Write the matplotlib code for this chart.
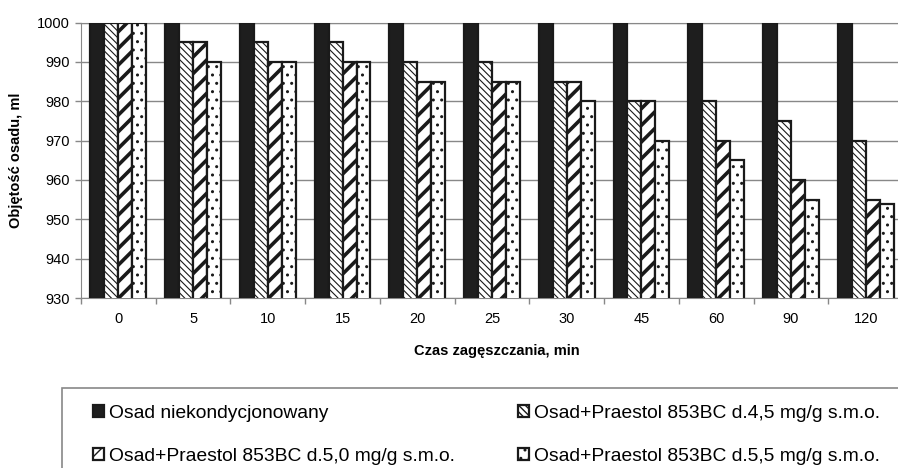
import numpy as np
from matplotlib import pyplot as plt, rcParams
from matplotlib.patches import Rectangle

rcParams["font.family"] = ["Liberation Sans", "DejaVu Sans"]

# Data
times = ["0", "5", "10", "15", "20", "25", "30", "45", "60", "90", "120"]
osad_niekond = [1000, 1000, 1000, 1000, 1000, 1000, 1000, 1000, 1000, 1000, 1000]
praestol_45 = [1000, 995, 995, 995, 990, 990, 985, 980, 980, 975, 970]
praestol_50 = [1000, 995, 990, 990, 985, 985, 985, 980, 970, 960, 955]
praestol_55 = [1000, 990, 990, 990, 985, 985, 980, 970, 965, 955, 954]
labels = [
    "Osad niekondycjonowany",
    "Osad+Praestol 853BC d.4,5 mg/g s.m.o.",
    "Osad+Praestol 853BC d.5,0 mg/g s.m.o.",
    "Osad+Praestol 853BC d.5,5 mg/g s.m.o.",
]

W, H = 898, 468
fig = plt.figure(figsize=(W / 100, H / 100), dpi=100)
# axes runs slightly off the right edge, as in the reference
ax = fig.add_axes([81 / W, 1 - 298 / H, 822 / W, (298 - 22.5) / H])

x = np.arange(len(times))
bw = 0.187
series = [osad_niekond, praestol_45, praestol_50, praestol_55]
styles = [
    dict(color="#1e1e1e", hatch=None, hlw=1.0),
    dict(color="white", hatch="\\\\\\\\\\", hlw=0.8),
    dict(color="white", hatch="//", hlw=2.6),
    dict(color="white", hatch="..", hlw=1.0),
]
bars = []
for i, (vals, st) in enumerate(zip(series, styles)):
    with plt.rc_context({"hatch.linewidth": st["hlw"]}):
        b = ax.bar(
            x + (i - 1.5) * bw,
            vals,
            width=bw,
            color=st["color"],
            edgecolor="#1a1a1a",
            linewidth=1.6,
            hatch=st["hatch"],
            label=labels[i],
            zorder=3,
        )
    for p in b:
        if hasattr(p, "set_hatch_linewidth"):
            p.set_hatch_linewidth(st["hlw"])
    bars.append(b)

ax.set_ylim(930, 1000)
ax.set_xlim(-0.5, len(times) - 0.5)
ax.set_yticks(np.arange(930, 1001, 10))
ax.set_xticks(x)
ax.set_xticklabels(times)
ax.set_xticks(np.arange(-0.5, len(times), 1), minor=True)
ax.tick_params(axis="x", which="major", length=0, pad=10, labelsize=10.5)
ax.tick_params(axis="x", which="minor", length=4, width=1, color="#888888")
ax.tick_params(axis="y", length=4, width=1, color="#888888", pad=4, labelsize=10.5)
ax.grid(axis="y", color="#888888", lw=1, zorder=0)
for s in ["left", "bottom", "top"]:
    ax.spines[s].set_color("#888888")
ax.spines["right"].set_visible(False)

fig.text(497 / W, 1 - 351 / H, "Czas zagęszczania, min", ha="center", va="center",
         fontsize=10.5, fontweight="bold")
fig.text(16 / W, 1 - 160 / H, "Objętość osadu, ml", ha="center", va="center",
         rotation=90, fontsize=10.5, fontweight="bold")

# legend frame runs off the figure
fig.patches.append(Rectangle((62 / W, -0.1), 1.0, 0.1 + (1 - 388 / H),
                             transform=fig.transFigure, fill=False,
                             edgecolor="#888888", lw=1.2))
order = [0, 2, 1, 3]
with plt.rc_context({"hatch.linewidth": 1.0}):
    fig.legend(
        [bars[k] for k in order],
        [labels[k] for k in order],
        loc="upper left",
        bbox_to_anchor=(93 / W, 1 - 405 / H),
        ncol=2,
        frameon=False,
        fontsize=13.9,
        borderpad=0,
        borderaxespad=0,
        handlelength=0.55,
        handleheight=0.55,
        handletextpad=0.27,
        labelspacing=1.35,
        columnspacing=3.3,
    )

fig.savefig("out.png", dpi=100)
